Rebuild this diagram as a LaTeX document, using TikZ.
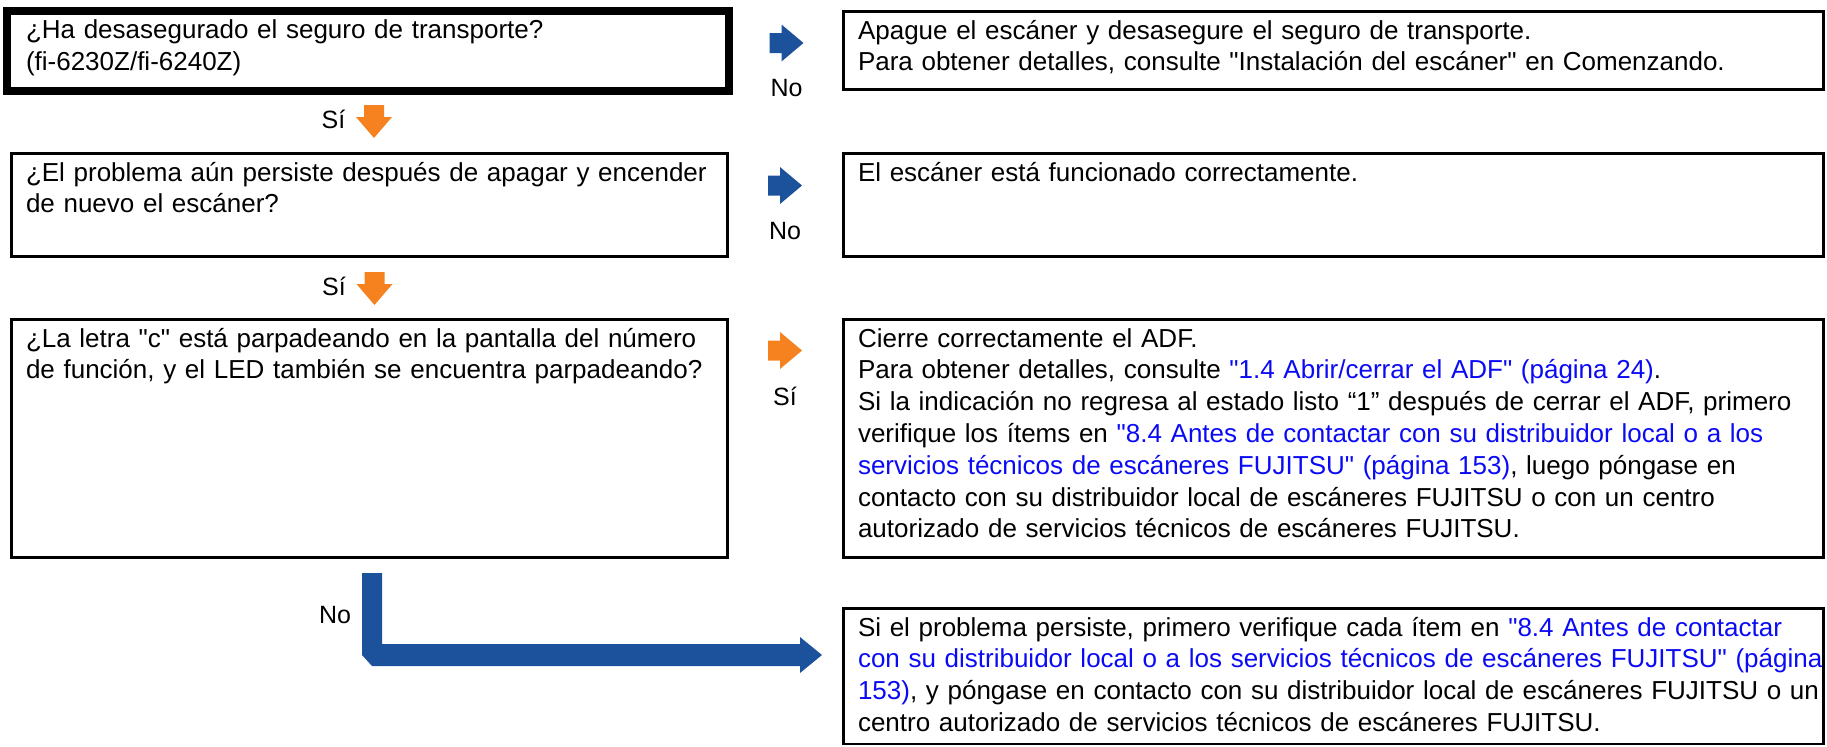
\documentclass[tikz,border=0pt]{standalone}
\usepackage{fontspec}
\newfontfamily\fjfont{Liberation Sans}[Ligatures=NoCommon]
\usetikzlibrary{positioning, calc}

\definecolor{fjblue}{RGB}{28,82,155}
\definecolor{fjorange}{RGB}{245,130,31}
\definecolor{linkblue}{RGB}{10,10,245}
\newcommand{\lnk}[1]{\textcolor{linkblue}{#1}}

\begin{document}
\begin{tikzpicture}[
    x=0.5pt, y=-0.5pt,
    every node/.style={font=\fjfont\fontsize{13}{15.9}\selectfont},
    box/.style={rectangle, draw, line width=1.4pt, anchor=north west, align=left, text height=13.75pt, inner ysep=0pt, inner xsep=7.25pt, outer sep=0pt},
    qbox/.style={box, text width=343.5pt},
    abox/.style={box, text width=475.5pt},
    tag/.style={anchor=base, font=\fjfont\fontsize{12.5}{15}\selectfont},
    rarr/.pic={\fill[#1] (0,-10) -- (12,-10) -- (12,-18.5) -- (34,0) -- (12,18.5) -- (12,10) -- (0,10) -- cycle;},
    darr/.pic={\fill[#1] (-10,0) -- (-10,12) -- (-18,12) -- (0,33) -- (18,12) -- (10,12) -- (10,0) -- cycle;}
]
\useasboundingbox (0,0) rectangle (1827,746);

\node [qbox, line width=4pt, text width=342pt, inner xsep=9.5pt, text depth=26.25pt] (q1) at (7,11) {¿Ha desasegurado el seguro de transporte?\\(fi-6230Z/fi-6240Z)};
\node [qbox, text depth=37.75pt] (q2) at (11.5,153.5) {\mbox{¿El problema aún persiste después de apagar y encender}\\de nuevo el escáner?};
\node [qbox, text depth=105.25pt] (q3) at (11.5,319.5) {\mbox{¿La letra "c" está parpadeando en la pantalla del número}\\\mbox{de función, y el LED también se encuentra parpadeando?}};

\node [abox, text depth=25.25pt] (a1) at (843.5,11.5) {Apague el escáner y desasegure el seguro de transporte.\\Para obtener detalles, consulte "Instalación del escáner" en Comenzando.};
\node [abox, text depth=37.75pt] (a2) at (843.5,153.5) {El escáner está funcionado correctamente.};
\node [abox, text depth=105.25pt] (a3) at (843.5,319.5) {Cierre correctamente el ADF.\\
Para obtener detalles, consulte \lnk{"1.4 Abrir/cerrar el ADF" (página 24)}.\\
\mbox{Si la indicación no regresa al estado listo “1” después de cerrar el ADF, primero}\\
\mbox{verifique los ítems en \lnk{"8.4 Antes de contactar con su distribuidor local o a los}}\\
\mbox{\lnk{servicios técnicos de escáneres FUJITSU" (página 153)}, luego póngase en}\\
contacto con su distribuidor local de escáneres FUJITSU o con un centro\\
autorizado de servicios técnicos de escáneres FUJITSU.};
\node [abox, text depth=54pt] (a4) at (843.5,608.5) {\mbox{Si el problema persiste, primero verifique cada ítem en \lnk{"8.4 Antes de contactar}}\\
\mbox{\lnk{con su distribuidor local o a los servicios técnicos de escáneres FUJITSU" (página}}\\
\mbox{\lnk{153)}, y póngase en contacto con su distribuidor local de escáneres FUJITSU o un}\\
centro autorizado de servicios técnicos de escáneres FUJITSU.};

\coordinate (r1) at ($(q1.north east)+(40.5,32)$);
\coordinate (r2) at ($(q2.north east)+(40.5,32)$);
\coordinate (r3) at ($(q3.north east)+(40.5,31)$);
\pic at (r1) {rarr=fjblue};
\pic at (r2) {rarr=fjblue};
\pic at (r3) {rarr=fjorange};
\node [tag] (no1) at ($(r1)+(17,53.5)$) {No};
\node [tag] (no2) at ($(r2)+(17,53.5)$) {No};
\node [tag] (si3) at ($(r3)+(17,54.5)$) {Sí};

\coordinate (d1) at ($(q1.south)+(6,14)$);
\coordinate (d2) at ($(q2.south)+(5,15.5)$);
\pic at (d1) {darr=fjorange};
\pic at (d2) {darr=fjorange};
\node [tag] (si1) at ($(d1)+(-40.5,23)$) {Sí};
\node [tag] (si2) at ($(d2)+(-40.5,23)$) {Sí};

\coordinate (ltop) at ($(q3.south)+(-7.5,15.5)$);
\coordinate (ltip) at ($(a4.north west)+(-21.5,46.5)$);
\fill [fjblue] (ltop) -- ++(20,0) |- ($(ltip)+(-22,-11)$) -- ++(0,-7) -- (ltip) -- ++(-22,18) -- ++(0,-7) -- ($(ltop |- ltip)+(10,11)$) -- (ltop |- ltip) -- cycle;
\node [tag] (no3) at ($(ltop)+(-27,50)$) {No};
\end{tikzpicture}
\end{document}
